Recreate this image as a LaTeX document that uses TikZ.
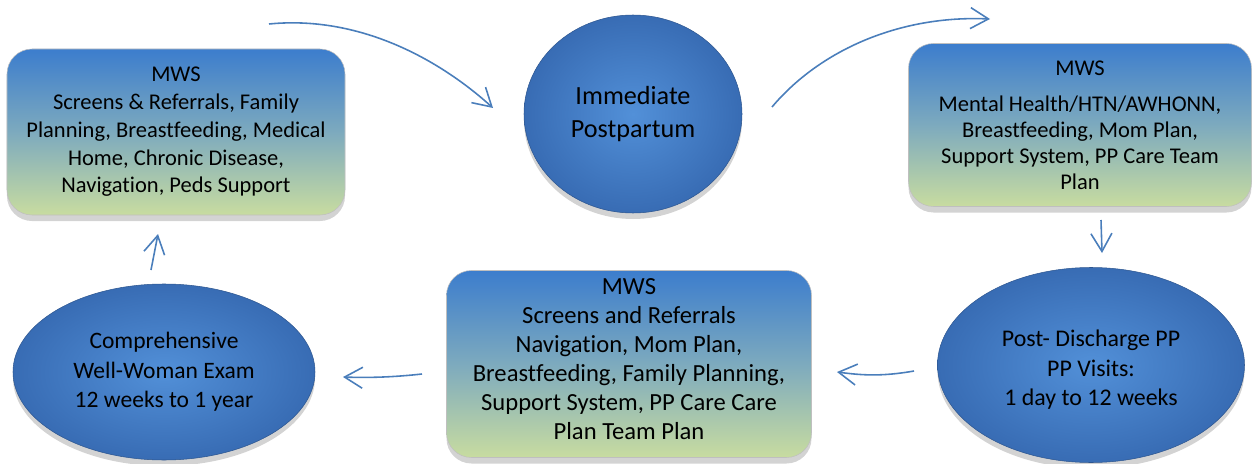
\documentclass[tikz,border=0pt]{standalone}
\usepackage{fontspec}
\setmainfont{Carlito}[Ligatures=CommonOff]
\usetikzlibrary{arrows.meta,shapes.geometric,shadows}
\definecolor{mwsblue}{RGB}{60,125,205}
\definecolor{mwsmid}{RGB}{125,170,190}
\definecolor{mwsgreen}{RGB}{200,220,160}
\definecolor{ovalblue}{RGB}{82,144,216}
\definecolor{ovaldark}{RGB}{56,108,180}
\definecolor{flowblue}{RGB}{74,126,187}
\tikzset{
	mwsbox/.style={rectangle, rounded corners=5mm, top color=mwsblue, bottom color=mwsgreen, middle color=mwsmid, draw=black!25, line width=0.3pt, align=center, inner sep=0pt, drop shadow={shadow xshift=0pt, shadow yshift=-1.2mm, opacity=0.35}},
	stageoval/.style={ellipse, inner color=ovalblue, outer color=ovaldark, draw=ovaldark!80!black, line width=0.3pt, align=center, inner sep=0pt, drop shadow={shadow xshift=0pt, shadow yshift=-1.2mm, opacity=0.35}},
	flow/.style={draw=flowblue, line width=0.9pt, -{Straight Barb[length=3.6mm,width=4.2mm]}}
}

\begin{document}
\begin{tikzpicture}[x=0.2mm, y=-0.2mm]
			%%%%% START %%%%%
			\useasboundingbox (0,0) rectangle (1257,464);
			
			\node[mwsbox, minimum width=67.6mm, minimum height=33.2mm, font=\fontsize{12.8}{15.8}\selectfont] (screens) at (176,132) {MWS\\Screens \& Referrals, Family\\Planning, Breastfeeding, Medical\\Home, Chronic Disease,\\Navigation, Peds Support};
			
			\node[stageoval, minimum width=43.6mm, minimum height=39.6mm, font=\fontsize{14.9}{18.8}\selectfont] (immediate) at (633,114) {Immediate\\Postpartum};
			
			\node[mwsbox, minimum width=68.6mm, minimum height=32.6mm, font=\fontsize{12.8}{14.7}\selectfont] (careteam) at (1080,125) {MWS\\[2.2mm]Mental Health/HTN/AWHONN,\\Breastfeeding, Mom Plan,\\Support System, PP Care Team\\Plan};
			
			\node[stageoval, minimum width=61.4mm, minimum height=39mm, font=\fontsize{13.6}{16.8}\selectfont] (discharge) at (1091,365) {\rule{0pt}{5.2mm}Post- Discharge PP\\PP Visits:\\1 day to 12 weeks};
			
			\node[mwsbox, minimum width=73mm, minimum height=37.4mm, font=\fontsize{14}{16.5}\selectfont] (visits) at (629,364) {MWS\\Screens and Referrals\\Navigation, Mom Plan,\\Breastfeeding, Family Planning,\\Support System, PP Care Care\\Plan Team Plan\rule[-2mm]{0pt}{2mm}};
			
			\node[stageoval, minimum width=60.4mm, minimum height=35.2mm, font=\fontsize{13.4}{16.8}\selectfont] (wellwoman) at (164,372) {Comprehensive\\Well-Woman Exam\\12 weeks to 1 year};
			
			% arrow ends
			\coordinate (screens out) at (269,24);
			\coordinate (immediate in) at (493,108);
			\coordinate (immediate out) at (772,107);
			\coordinate (careteam in) at (990,19);
			\coordinate (careteam out) at (1101,220);
			\coordinate (discharge in) at (1102,253);
			\coordinate (discharge out) at (914,371);
			\coordinate (visits in) at (837,372);
			\coordinate (visits out) at (422,374);
			\coordinate (wellwoman in) at (343,377);
			\coordinate (wellwoman out) at (151,270);
			\coordinate (screens in) at (158,234);
			
			\draw[flow] (screens out) .. controls (360,15) and (440,60) .. (immediate in);
			\draw[flow] (immediate out) .. controls (820,50) and (900,15) .. (careteam in);
			\draw[flow] (careteam out) -- (discharge in);
			\draw[flow] (discharge out) .. controls (880,377) and (860,375) .. (visits in);
			\draw[flow] (visits out) .. controls (395,377) and (370,378) .. (wellwoman in);
			\draw[flow] (wellwoman out) -- (screens in);
			
			%%%%% END %%%%%
\end{tikzpicture}
\end{document}
